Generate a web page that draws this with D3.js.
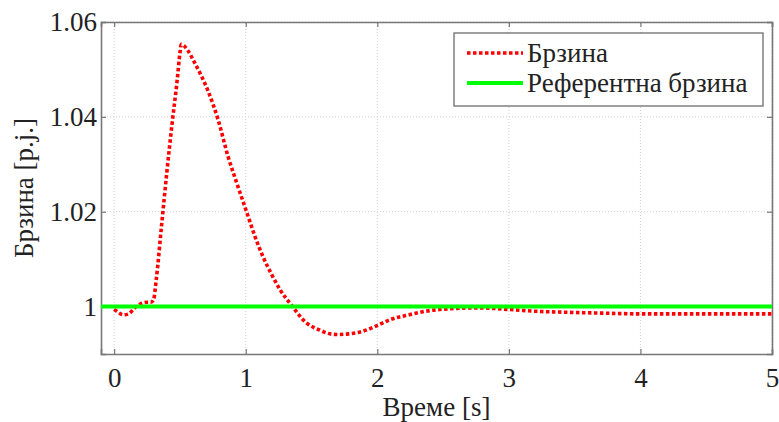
<!DOCTYPE html>
<html>
<head>
<meta charset="utf-8">
<script src="https://cdn.jsdelivr.net/npm/d3@7"></script>
<style>
  body { margin: 0; background: #fff; }
  svg text { font-family: "Liberation Serif", "Times New Roman", Times, "DejaVu Serif", serif; fill: #222; }
</style>
</head>
<body>
<script>
// time [s] and speed [p.u.]
const time = [0, 0.03, 0.07, 0.11, 0.155, 0.205, 0.25, 0.28, 0.30, 0.32, 0.36, 0.40, 0.44, 0.48, 0.50, 0.51,
  0.53, 0.56, 0.61, 0.66, 0.713, 0.79, 0.865, 0.93, 1.005, 1.07, 1.13, 1.2, 1.26, 1.35, 1.46, 1.55, 1.64, 1.69,
  1.78, 1.89, 2.0, 2.1, 2.25, 2.4, 2.58, 2.76, 3.01, 3.21, 3.44, 3.7, 4.0, 4.5, 5.0];
const speed = [0.9994, 0.9988, 0.99825, 0.99845, 0.9997, 1.0006, 1.0009, 1.0009, 1.0015, 1.0057, 1.0170, 1.0282, 1.0385, 1.0480, 1.0535, 1.0553,
  1.0550, 1.0540, 1.0515, 1.0488, 1.0455, 1.0394, 1.0317, 1.0262, 1.0201, 1.0148, 1.0106, 1.0066, 1.0036, 1.0002, 0.99657, 0.9952, 0.99425, 0.99411,
  0.99425, 0.9948, 0.9960, 0.99726, 0.99832, 0.99916, 0.99958, 0.99973, 0.99937, 0.9990, 0.9988, 0.99862, 0.99846, 0.99845, 0.99845];
const refSpeed = [1, 1];
const refTime = [-0.1, 5];

const xTicks = [0, 1, 2, 3, 4, 5];
const yTicks = [1, 1.02, 1.04, 1.06];
const legendLabels = ["Брзина", "Референтна брзина"];
const xLabel = "Време [s]";
const yLabel = "Брзина [p.j.]";

const width = 779, height = 422;
const margin = {top: 22, right: 7, bottom: 68, left: 101};
const serif = "'Liberation Serif', 'Times New Roman', 'DejaVu Serif', serif";
const fontSize = 27;

const svg = d3.select("body").append("svg")
  .attr("width", width)
  .attr("height", height);

const x = d3.scaleLinear().domain([-0.1, 5]).range([margin.left, width - margin.right]);
const y = d3.scaleLinear().domain([0.99, 1.06]).range([height - margin.bottom, margin.top]);

// grid
const grid = svg.append("g").attr("stroke", "#d0d0d0").attr("stroke-width", 1).attr("stroke-dasharray", "1,2");
grid.selectAll("line.gx").data(xTicks).join("line")
  .attr("x1", (d) => x(d)).attr("x2", (d) => x(d))
  .attr("y1", y.range()[0]).attr("y2", y.range()[1]);
grid.selectAll("line.gy").data(yTicks).join("line")
  .attr("class", "gy")
  .attr("x1", x.range()[0]).attr("x2", x.range()[1])
  .attr("y1", (d) => y(d)).attr("y2", (d) => y(d));

// axes, ticks pointing inward
const axisColor = "#777";
const bottomAxis = svg.append("g")
  .attr("transform", `translate(0, ${y.range()[0]})`)
  .call(d3.axisBottom(x).tickValues(xTicks).tickSize(-5).tickPadding(14).tickFormat(d3.format("d")));
const topAxis = svg.append("g")
  .attr("transform", `translate(0, ${y.range()[1]})`)
  .call(d3.axisTop(x).tickValues(xTicks).tickSize(-5).tickFormat(""));
const leftAxis = svg.append("g")
  .attr("transform", `translate(${x.range()[0]}, 0)`)
  .call(d3.axisLeft(y).tickValues(yTicks).tickSize(-5).tickPadding(4).tickFormat((d) => d === 1 ? "1" : d3.format(".2f")(d)));
const rightAxis = svg.append("g")
  .attr("transform", `translate(${x.range()[1]}, 0)`)
  .call(d3.axisRight(y).tickValues(yTicks).tickSize(-5).tickFormat(""));

[bottomAxis, topAxis, leftAxis, rightAxis].forEach((g) => {
  g.attr("font-family", serif);
  g.select(".domain").attr("stroke", axisColor).attr("stroke-width", 1.6);
  g.selectAll(".tick line").attr("stroke", axisColor).attr("stroke-width", 1.2);
  g.selectAll("text").attr("font-size", fontSize).attr("fill", "#222");
});

// lines
const line = d3.line().x((d) => x(d[0])).y((d) => y(d[1]));
const chart = svg.append("g");
chart.append("path")
  .datum(d3.zip(time, speed))
  .attr("fill", "none")
  .attr("stroke", "#ff0000")
  .attr("stroke-width", 3.6)
  .attr("stroke-dasharray", "3.5,2.5")
  .attr("d", line.curve(d3.curveMonotoneX));
chart.append("path")
  .datum(d3.zip(refTime, refSpeed))
  .attr("fill", "none")
  .attr("stroke", "#00ff00")
  .attr("stroke-width", 4)
  .attr("d", d3.line().x((d) => x(d[0])).y((d) => y(d[1])));

// legend
const legend = svg.append("g");
legend.append("rect")
  .attr("x", 454).attr("y", 33).attr("width", 309).attr("height", 73)
  .attr("fill", "#fff").attr("stroke", axisColor).attr("stroke-width", 1.4);
const legendStyles = [
  {stroke: "#ff0000", dash: "3.5,2.5"},
  {stroke: "#00ff00", dash: null}
];
legendLabels.forEach((label, i) => {
  const cy = 53 + i * 30;
  legend.append("line")
    .attr("x1", 467).attr("x2", 523).attr("y1", cy).attr("y2", cy)
    .attr("stroke", legendStyles[i].stroke)
    .attr("stroke-width", i === 0 ? 3.6 : 4)
    .attr("stroke-dasharray", legendStyles[i].dash);
  legend.append("text")
    .attr("x", 527).attr("y", cy + 9)
    .attr("font-family", serif)
    .attr("font-size", fontSize)
    .text(label);
});

// axis labels
svg.append("text")
  .attr("x", (x.range()[0] + x.range()[1]) / 2)
  .attr("y", 416)
  .attr("text-anchor", "middle")
  .attr("font-family", serif)
  .attr("font-size", fontSize)
  .text(xLabel);
svg.append("text")
  .attr("transform", `translate(33, ${(y.range()[0] + y.range()[1]) / 2}) rotate(-90)`)
  .attr("text-anchor", "middle")
  .attr("font-family", serif)
  .attr("font-size", fontSize)
  .text(yLabel);
</script>
</body>
</html>
